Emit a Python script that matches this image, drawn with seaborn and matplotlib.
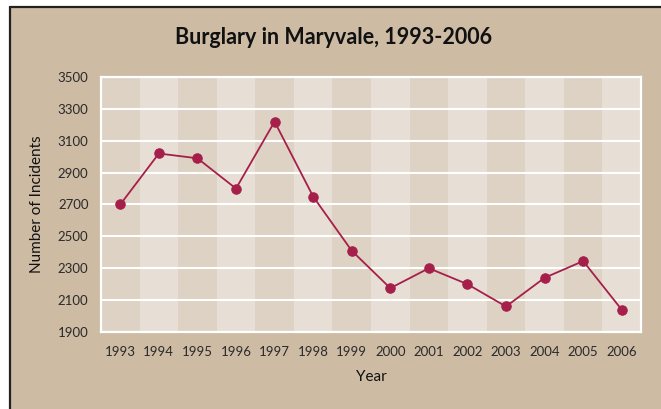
import numpy as np
import pandas as pd
import matplotlib.pyplot as plt
import matplotlib.patches as mpatches
from matplotlib.lines import Line2D
import seaborn as sns

sns.set_style('white')
plt.rcParams['font.family'] = ['Lato', 'DejaVu Sans']

years = [1993, 1994, 1995, 1996, 1997, 1998, 1999, 2000, 2001, 2002, 2003, 2004, 2005, 2006]
incidents = [2700, 3020, 2990, 2800, 3220, 2750, 2410, 2175, 2300, 2200, 2060, 2240, 2345, 2040]
yticks = [1900, 2100, 2300, 2500, 2700, 2900, 3100, 3300, 3500]

df = pd.DataFrame({'Year': years, 'Incidents': incidents})

bg = '#cdbba4'
dark = '#ddd2c3'
light = '#e7dfd5'
red = '#a51f4a'

fig = plt.figure(figsize=(6.61, 4.09), dpi=100)
fig.patch.set_facecolor('white')
# tan panel with black edge on top/left
fig.patches.append(mpatches.Rectangle((10/661, 0), 1, 1 - 7/409, transform=fig.transFigure,
                                      facecolor=bg, edgecolor='none', zorder=-10))
fig.lines.append(Line2D([9.5/661, 9.5/661], [0, 1 - 6.5/409], transform=fig.transFigure,
                        color='#222222', lw=1.6))
fig.lines.append(Line2D([9.5/661, 1], [1 - 6.5/409, 1 - 6.5/409], transform=fig.transFigure,
                        color='#222222', lw=1.6))

ax = fig.add_axes([101/661, 77/409, 540/661, 255/409])
ax.set_facecolor(light)

for i, yr in enumerate(years):
    ax.axvspan(yr - 0.5, yr + 0.5, color=dark if i % 2 == 0 else light, lw=0, zorder=0)

sns.lineplot(data=df, x='Year', y='Incidents', ax=ax, color=red, lw=1.3,
             marker='o', markersize=6.8, markeredgecolor=red, zorder=3)

ax.set_xlim(years[0] - 0.5, years[-1] + 0.5)
ax.set_ylim(yticks[0], yticks[-1])
ax.set_yticks(yticks)
ax.set_xticks(years)
ax.yaxis.grid(True, color='white', lw=1.5, zorder=1)
ax.xaxis.grid(False)
ax.set_axisbelow(False)
for g in ax.get_ygridlines():
    g.set_zorder(1)
for s in ax.spines.values():
    s.set_color('white')
    s.set_linewidth(1.6)
    s.set_visible(True)

ax.tick_params(axis='both', length=0, labelsize=9.5, colors='#2a2a2a')
ax.tick_params(axis='x', pad=10)
ax.tick_params(axis='y', pad=9)
ax.set_xlabel('Year', fontsize=11, color='#111111', labelpad=9)
ax.set_ylabel('Number of Incidents', fontsize=11, color='#111111', labelpad=10)

fig.text(334/661, 1 - 37/409, 'Burglary in Maryvale, 1993-2006',
         ha='center', va='center', fontsize=15.5, fontweight='bold', color='#111111')

fig.savefig('out.png', dpi=100, facecolor=fig.get_facecolor())
